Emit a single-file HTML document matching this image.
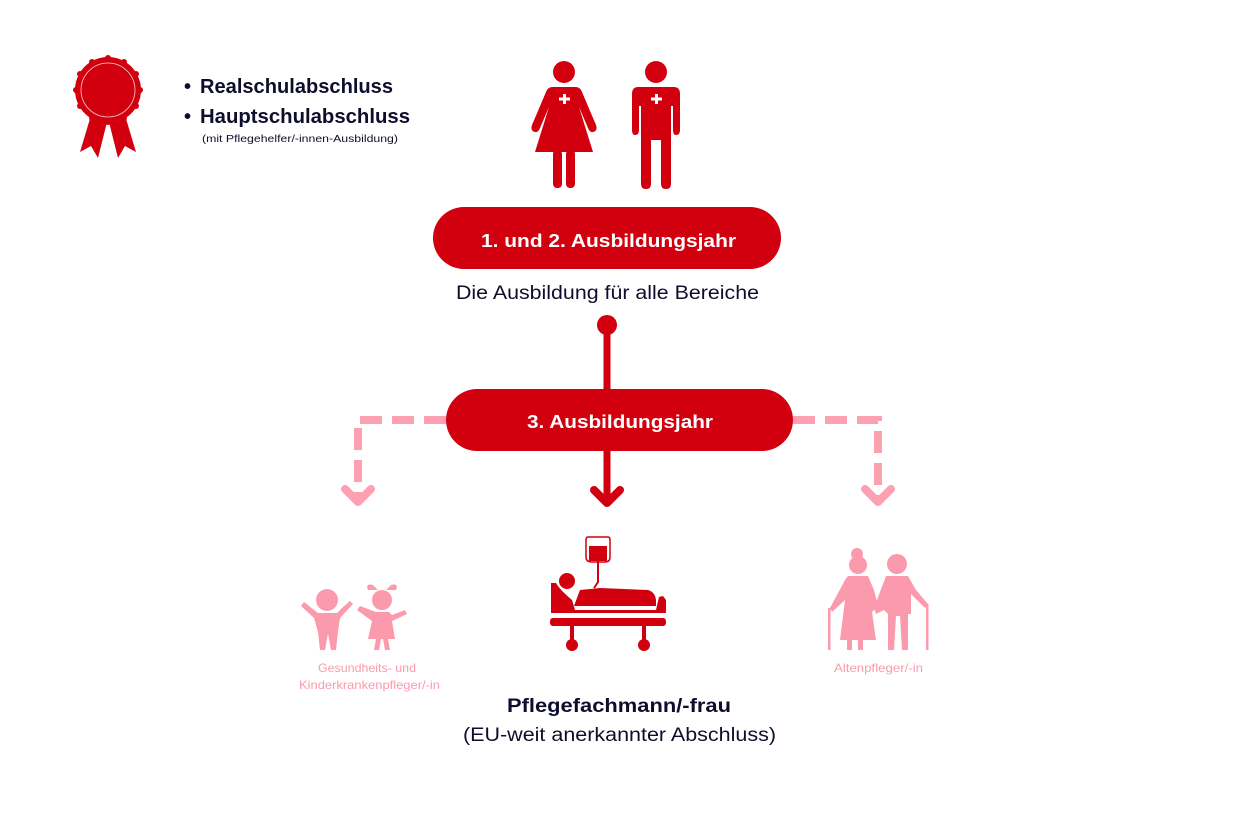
<!DOCTYPE html>
<html><head><meta charset="utf-8"><style>
html,body{margin:0;padding:0;background:#fff;}
svg{display:block;font-family:"Liberation Sans",sans-serif;}
</style></head><body>
<svg width="1260" height="840" viewBox="0 0 1260 840" xmlns="http://www.w3.org/2000/svg">
<!-- rosette -->
<g fill="#d2000f">
<path d="M92 112 L80 152 L91 146 L98 158 L108 118 Z"/>
<path d="M108 118 L118 158 L125 146 L136 152 L124 112 Z"/>
<circle cx="108" cy="90" r="33"/>
<g>
<circle cx="108" cy="58" r="3"/><circle cx="124" cy="62" r="3"/><circle cx="136" cy="74" r="3"/><circle cx="140" cy="90" r="3"/><circle cx="136" cy="106" r="3"/><circle cx="124" cy="118" r="3"/><circle cx="108" cy="122" r="3"/><circle cx="92" cy="118" r="3"/><circle cx="80" cy="106" r="3"/><circle cx="76" cy="90" r="3"/><circle cx="80" cy="74" r="3"/><circle cx="92" cy="62" r="3"/>
</g>
<circle cx="108" cy="90" r="27" fill="none" stroke="#fff" stroke-width="0.8" opacity="0.8"/>
</g>
<g fill="#0e0e2c" font-weight="bold" font-size="20">
<text x="184" y="93">•</text>
<text x="200" y="93" textLength="193" lengthAdjust="spacingAndGlyphs">Realschulabschluss</text>
<text x="184" y="123">•</text>
<text x="200" y="123" textLength="210" lengthAdjust="spacingAndGlyphs">Hauptschulabschluss</text>
</g>
<text x="202" y="142" font-size="10.5" fill="#0e0e2c" textLength="196" lengthAdjust="spacingAndGlyphs">(mit Pflegehelfer/-innen-Ausbildung)</text>

<!-- nurses -->
<g fill="#d2000f">
<circle cx="564" cy="72" r="11"/>
<path d="M552 87 L576 87 Q580 87 582 92 L596 125 Q598 131 593 132 Q590 133 588 128 L579 107 L593 152 L535 152 L549 107 L540 128 Q538 133 535 132 Q530 131 532 125 L546 92 Q548 87 552 87 Z"/>
<rect x="553" y="150" width="9" height="38" rx="4"/><rect x="566" y="150" width="9" height="38" rx="4"/>
<circle cx="656" cy="72" r="11"/>
<path d="M638 87 L674 87 Q680 87 680 94 L680 130 Q680 135 676 135 Q673 135 673 130 L673 106 L671 106 L671 184 Q671 189 666 189 Q661 189 661 184 L661 140 L651 140 L651 184 Q651 189 646 189 Q641 189 641 184 L641 106 L639 106 L639 130 Q639 135 635 135 Q632 135 632 130 L632 94 Q632 87 638 87 Z"/>
</g>
<g fill="#fff"><rect x="563" y="94" width="3" height="10"/><rect x="559" y="97.5" width="11" height="3"/>
<rect x="655" y="94" width="3" height="10"/><rect x="651" y="97.5" width="11" height="3"/></g>

<!-- pill 1 -->
<rect x="433" y="207" width="348" height="62" rx="31" fill="#d2000f"/>
<text x="481" y="247" fill="#fff" font-weight="bold" font-size="18" textLength="255" lengthAdjust="spacingAndGlyphs">1. und 2. Ausbildungsjahr</text>
<text x="456" y="299" fill="#0e0e2c" font-size="19" textLength="303" lengthAdjust="spacingAndGlyphs">Die Ausbildung für alle Bereiche</text>

<circle cx="607" cy="325" r="10" fill="#d2000f"/>
<line x1="607" y1="325" x2="607" y2="392" stroke="#d2000f" stroke-width="7"/>

<!-- dashed -->
<g fill="none" stroke="#fda0b2" stroke-width="8">
<path d="M446 420 L358 420 L358 500" stroke-dasharray="22 10"/>
<path d="M793 420 L878 420 L878 500" stroke-dasharray="22 10"/>
<path d="M345 489 L358 502 L371 489" stroke-linecap="round" stroke-linejoin="round"/>
<path d="M865 489 L878 502 L891 489" stroke-linecap="round" stroke-linejoin="round"/>
</g>

<!-- pill 2 -->
<rect x="446" y="389" width="347" height="62" rx="31" fill="#d2000f"/>
<text x="527" y="428" fill="#fff" font-weight="bold" font-size="18" textLength="186" lengthAdjust="spacingAndGlyphs">3. Ausbildungsjahr</text>
<line x1="607" y1="451" x2="607" y2="502" stroke="#d2000f" stroke-width="7"/>
<path d="M594 490 L607 503 L620 490" fill="none" stroke="#d2000f" stroke-width="8" stroke-linecap="round" stroke-linejoin="round"/>

<!-- bed -->
<g fill="#d2000f">
<path d="M588 537 L608 537 Q610 537 610 540 L610 557 Q610 562 605 562 L592 562 Q586 562 586 557 L586 540 Q586 537 588 537 Z" fill="none" stroke="#d2000f" stroke-width="1.5"/>
<rect x="589" y="546" width="18" height="15"/>
<path d="M598 561 L598 582 L594 588" fill="none" stroke="#d2000f" stroke-width="2"/>
<circle cx="567" cy="581" r="8"/>
<path d="M580 590 L600 588 L648 590 Q655 592 656 600 L656 606 L574 606 Z"/>
<path d="M551 583 L556 583 Q560 590 572 600 L575 610 L656 610 L659 597 L663 596 L666 600 L666 613 L551 613 Z"/>
<rect x="550" y="618" width="116" height="8" rx="3"/>
<rect x="570" y="624" width="4" height="16"/><rect x="642" y="624" width="4" height="16"/>
<circle cx="572" cy="645" r="6"/><circle cx="644" cy="645" r="6"/>
</g>

<!-- kids -->
<g fill="#fc9aad">
<circle cx="327" cy="600" r="11"/>
<path d="M318 613 L337 613 L342 608 L350 601 L353 604 L340 618 L338 632 L336 650 L331 650 L328 634 L325 650 L320 650 L318 632 L314 618 L301 606 L304 602 Z"/>
<circle cx="382" cy="600" r="10"/>
<path d="M368 590 Q365 583 373 585 L378 590 Z M396 590 Q399 583 391 585 L386 590 Z"/>
<path d="M376 612 L389 612 L392 615 L405 610 L407 614 L392 621 L395 639 L388 639 L390 650 L385 650 L383 639 L381 639 L379 650 L374 650 L376 639 L368 639 L372 621 L357 610 L360 606 Z"/>
</g>

<!-- elderly -->
<g fill="#fc9aad">
<circle cx="857" cy="554" r="6"/>
<circle cx="858" cy="565" r="9"/>
<path d="M848 576 L868 576 L874 590 L878 606 L872 612 L876 640 L840 640 L845 600 L832 612 L830 608 L845 580 Z"/>
<rect x="847" y="636" width="5" height="14"/><rect x="858" y="636" width="5" height="14"/>
<rect x="828" y="608" width="2.5" height="42"/>
<circle cx="897" cy="564" r="10"/>
<path d="M886 576 L908 576 L916 590 L928 604 L925 608 L911 594 L911 614 L908 614 L908 650 L902 650 L900 616 L896 616 L894 650 L888 650 L888 614 L884 610 L876 614 L874 608 Z"/>
<rect x="926" y="604" width="2.5" height="46"/>
</g>

<g fill="#fc9aad" font-size="12">
<text x="318" y="672" textLength="98" lengthAdjust="spacingAndGlyphs">Gesundheits- und</text>
<text x="299" y="689" textLength="141" lengthAdjust="spacingAndGlyphs">Kinderkrankenpfleger/-in</text>
<text x="834" y="672" textLength="89" lengthAdjust="spacingAndGlyphs">Altenpfleger/-in</text>
</g>
<text x="507" y="712" fill="#0e0e2c" font-weight="bold" font-size="19" textLength="224" lengthAdjust="spacingAndGlyphs">Pflegefachmann/-frau</text>
<text x="463" y="741" fill="#0e0e2c" font-size="19" textLength="313" lengthAdjust="spacingAndGlyphs">(EU-weit anerkannter Abschluss)</text>
</svg>
</body></html>
